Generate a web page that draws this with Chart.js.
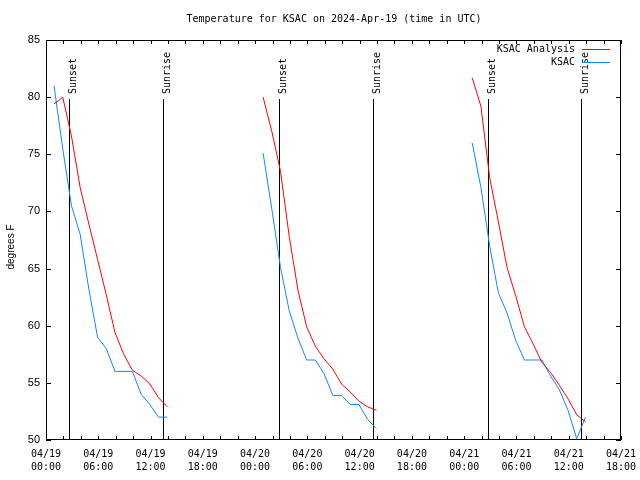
<!DOCTYPE html>
<html>
<head>
<meta charset="utf-8">
<script src="https://cdn.jsdelivr.net/npm/chart.js@4.4.1/dist/chart.umd.min.js"></script>
<style>
  body { margin: 0; background: #fff; }
  #chart { display: block; }
</style>
</head>
<body>
<canvas id="chart" width="640" height="480"></canvas>
<script>
// hours since 04/19 00:00 UTC of the first reading of each evening
const dayStarts = [0.92, 24.92, 48.92];

const analysisDay1 = [79.4, 80.0, 76.6, 72.1, 68.9, 65.8, 62.7, 59.4, 57.5, 56.1, 55.6, 54.9, 53.7, 52.9];
const analysisDay2 = [80.0, 77.0, 73.5, 67.8, 63.1, 59.9, 58.2, 57.1, 56.2, 54.9, 54.2, 53.4, 52.9, 52.6];
const analysisDay3 = [81.7, 79.2, 73.0, 69.1, 65.1, 62.6, 59.9, 58.4, 56.8, 55.9, 54.8, 53.6, 52.2, 51.6];

const obsDay1 = [81.0, 75.5, 70.5, 68.0, 63.2, 59.0, 58.0, 56.0, 56.0, 56.0, 54.0, 53.1, 52.0, 52.0];
const obsDay2 = [75.1, 70.2, 65.1, 61.3, 58.9, 57.0, 57.0, 55.8, 53.9, 53.9, 53.1, 53.1, 51.8, 51.0];
const obsDay3 = [76.0, 72.1, 67.0, 62.9, 61.1, 58.7, 57.0, 57.0, 57.0, 55.6, 54.4, 52.6, 50.1, 52.0];

const sunsetHours = [2.64, 26.74, 50.73];
const sunriseHours = [13.43, 37.53, 61.41];

const dateLabels = ['04/19', '04/20', '04/21'];
const timeLabels = ['00:00', '06:00', '12:00', '18:00'];

function toPoints(days) {
  const pts = [];
  days.forEach((vals, d) => {
    vals.forEach((v, i) => pts.push({ x: dayStarts[d] + i, y: v }));
    pts.push({ x: dayStarts[d] + vals.length, y: null });
  });
  return pts;
}

const monoFont = '"DejaVu Sans Mono", monospace';
const sansFont = '"Liberation Sans", Arial, sans-serif';

const decorations = {
  id: 'decorations',
  beforeDatasetsDraw(chart) {
    const { ctx, chartArea: a, scales: { x, y } } = chart;
    ctx.save();
    ctx.strokeStyle = '#000';
    ctx.lineWidth = 1;
    const yTop = Math.round(y.getPixelForValue(79.8));
    ctx.fillStyle = '#000';
    ctx.font = '10px ' + monoFont;
    const marks = [];
    sunsetHours.forEach(h => marks.push([h, 'Sunset']));
    sunriseHours.forEach(h => marks.push([h, 'Sunrise']));
    marks.forEach(([h, label]) => {
      const px = Math.round(x.getPixelForValue(h)) + 0.5;
      ctx.beginPath();
      ctx.moveTo(px, yTop);
      ctx.lineTo(px, a.bottom);
      ctx.stroke();
      ctx.save();
      ctx.translate(px + 6, yTop - 5);
      ctx.rotate(-Math.PI / 2);
      ctx.textAlign = 'left';
      ctx.textBaseline = 'alphabetic';
      ctx.fillText(label, 0, 0);
      ctx.restore();
    });
    ctx.restore();
  },
  afterDraw(chart) {
    const { ctx, chartArea: a, scales: { x, y } } = chart;
    ctx.save();
    ctx.strokeStyle = '#000';
    ctx.lineWidth = 1;
    ctx.strokeRect(Math.round(a.left) + 0.5, Math.round(a.top) + 0.5,
      Math.round(a.right - a.left) - 1, Math.round(a.bottom - a.top) - 1);
    ctx.beginPath();
    x.ticks.forEach(t => {
      const px = Math.round(x.getPixelForValue(t.value)) + 0.5;
      ctx.moveTo(px, a.bottom); ctx.lineTo(px, a.bottom - 4);
      ctx.moveTo(px, a.top); ctx.lineTo(px, a.top + 4);
    });
    y.ticks.forEach(t => {
      const py = Math.round(y.getPixelForValue(t.value)) + 0.5;
      ctx.moveTo(a.left, py); ctx.lineTo(a.left + 5, py);
      ctx.moveTo(a.right, py); ctx.lineTo(a.right - 5, py);
    });
    ctx.stroke();

    // title
    ctx.fillStyle = '#000';
    ctx.font = '10px ' + monoFont;
    ctx.textAlign = 'center';
    ctx.textBaseline = 'middle';
    ctx.fillText('Temperature for KSAC on 2024-Apr-19 (time in UTC)', 334, 19);

    // y axis title
    ctx.save();
    ctx.font = '10px ' + sansFont;
    ctx.translate(11, 247);
    ctx.rotate(-Math.PI / 2);
    ctx.fillText('degrees F', 0, 0);
    ctx.restore();

    // legend
    ctx.font = '10px ' + monoFont;
    ctx.textAlign = 'right';
    chart.data.datasets.forEach((ds, i) => {
      const ly = 49 + i * 13;
      ctx.fillStyle = '#000';
      ctx.fillText(ds.label, 575, ly);
      ctx.strokeStyle = ds.borderColor;
      ctx.beginPath();
      ctx.moveTo(582, ly + 0.5);
      ctx.lineTo(610, ly + 0.5);
      ctx.stroke();
    });
    ctx.restore();
  }
};

new Chart(document.getElementById('chart'), {
  type: 'line',
  data: {
    datasets: [
      {
        label: 'KSAC Analysis',
        data: toPoints([analysisDay1, analysisDay2, analysisDay3]),
        borderColor: '#ff0000',
        borderWidth: 1,
        pointRadius: 0,
        tension: 0,
        spanGaps: false
      },
      {
        label: 'KSAC',
        data: toPoints([obsDay1, obsDay2, obsDay3]),
        borderColor: '#1088ff',
        borderWidth: 1,
        pointRadius: 0,
        tension: 0,
        spanGaps: false
      }
    ]
  },
  options: {
    responsive: false,
    animation: false,
    devicePixelRatio: 1,
    layout: { padding: { top: 40, right: 19, left: 0, bottom: 0 } },
    plugins: {
      legend: { display: false },
      title: { display: false },
      tooltip: { enabled: false }
    },
    scales: {
      x: {
        type: 'linear',
        min: 0,
        max: 66,
        afterFit(scale) {
          scale.height = 40;
          scale.paddingLeft = 0;
          scale.paddingRight = 0;
        },
        grid: { display: false, drawTicks: false },
        border: { display: false },
        ticks: {
          stepSize: 2,
          autoSkip: false,
          maxRotation: 0,
          padding: 8,
          color: '#000',
          font: { family: monoFont, size: 10, lineHeight: 1.3 },
          callback(v) {
            if (v % 6 !== 0) return '';
            return [dateLabels[Math.floor(v / 24)], timeLabels[(v % 24) / 6]];
          }
        }
      },
      y: {
        min: 50,
        max: 85,
        afterFit(scale) {
          scale.width = 46;
          scale.paddingTop = 0;
          scale.paddingBottom = 0;
        },
        grid: { display: false, drawTicks: false },
        border: { display: false },
        ticks: {
          stepSize: 5,
          padding: 6,
          color: '#000',
          font: { family: sansFont, size: 11 }
        }
      }
    }
  },
  plugins: [decorations]
});
</script>
</body>
</html>
